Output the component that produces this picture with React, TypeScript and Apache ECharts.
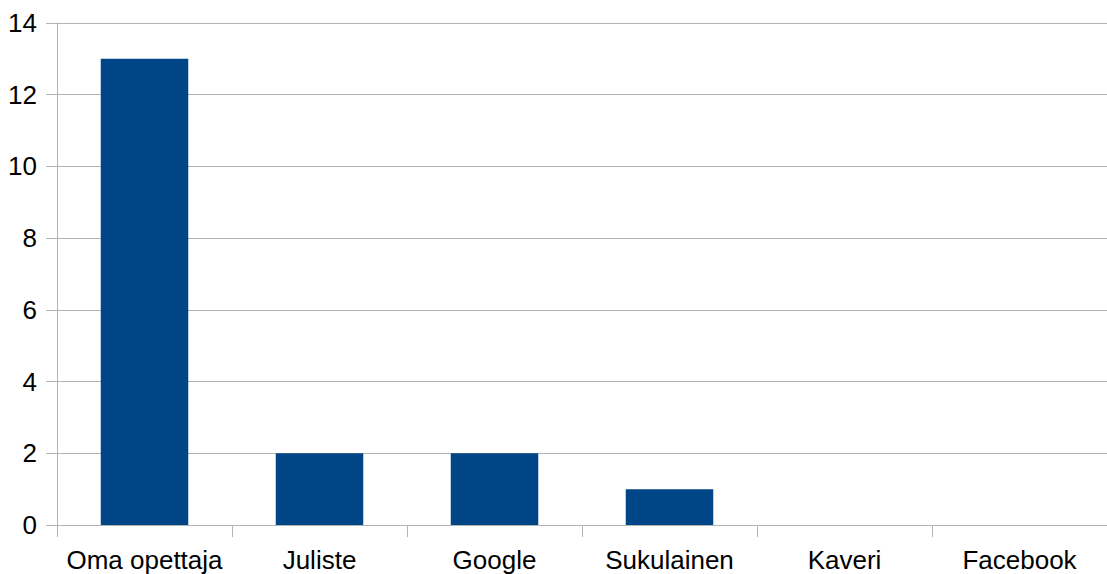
import React, { useEffect, useRef } from "react";
import * as echarts from "echarts";

const categories = ["Oma opettaja", "Juliste", "Google", "Sukulainen", "Kaveri", "Facebook"];
const values = [13, 2, 2, 1, 0, 0];
const yMin = 0;
const yMax = 14;
const yInterval = 2;

export default function App() {
  const ref = useRef<HTMLDivElement>(null);
  useEffect(() => {
    if (!ref.current) return;
    const chart = echarts.init(ref.current, undefined, { renderer: "svg" });
    chart.setOption({
      animation: false,
      backgroundColor: "#ffffff",
      grid: { left: 57, right: 0, top: 23, bottom: 49, containLabel: false },
      xAxis: {
        type: "category",
        data: categories,
        axisLine: { show: true, lineStyle: { color: "#b3b3b3", width: 1 } },
        axisTick: { show: true, length: 12, alignWithLabel: false, lineStyle: { color: "#b3b3b3" } },
        axisLabel: {
          color: "#000000",
          fontFamily: "Liberation Sans, Arial, sans-serif",
          fontSize: 26,
          margin: 22,
          interval: 0,
        },
      },
      yAxis: {
        type: "value",
        min: yMin,
        max: yMax,
        interval: yInterval,
        axisLine: { show: true, lineStyle: { color: "#b3b3b3", width: 1 } },
        axisTick: { show: true, length: 11, lineStyle: { color: "#b3b3b3" } },
        splitLine: { show: true, lineStyle: { color: "#b3b3b3", width: 1 } },
        axisLabel: {
          color: "#000000",
          fontFamily: "Liberation Sans, Arial, sans-serif",
          fontSize: 26,
          margin: 20,
        },
      },
      series: [
        {
          type: "bar",
          data: values,
          barWidth: "50%",
          itemStyle: { color: "#004586" },
        },
      ],
    });
    return () => chart.dispose();
  }, []);
  return (
    <div
      ref={ref}
      style={{ position: "fixed", left: 0, top: 0, width: 1107, height: 574 }}
    />
  );
}
